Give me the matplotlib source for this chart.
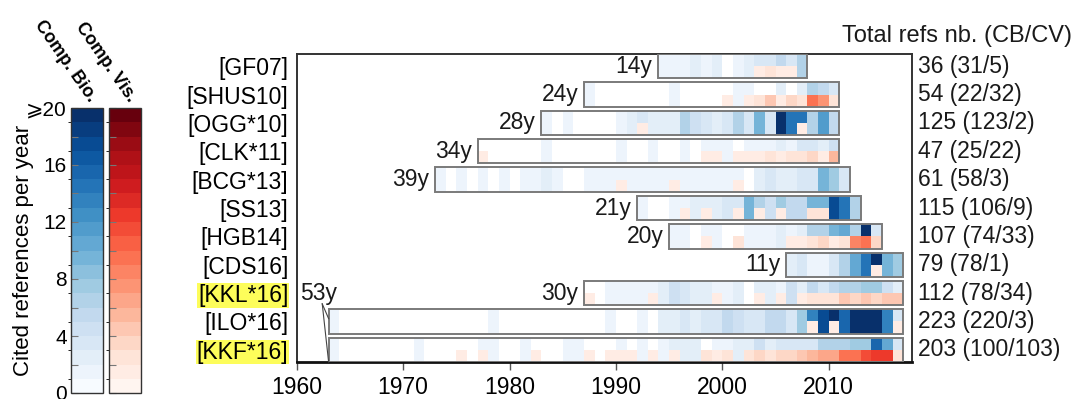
import numpy as np
import matplotlib
matplotlib.use('Agg')
import matplotlib.pyplot as plt
from matplotlib.colors import ListedColormap, BoundaryNorm
from matplotlib.cm import ScalarMappable
from matplotlib.patches import Rectangle
from matplotlib.transforms import blended_transform_factory

plt.rcParams['font.family'] = ['Liberation Sans', 'DejaVu Sans']

# ---------------- data ----------------
papers = ['[GF07]', '[SHUS10]', '[OGG*10]', '[CLK*11]', '[BCG*13]', '[SS13]',
          '[HGB14]', '[CDS16]', '[KKL*16]', '[ILO*16]', '[KKF*16]']
highlighted = ['[KKL*16]', '[KKF*16]']
start_years = [1994, 1987, 1983, 1977, 1973, 1992, 1995, 2006, 1987, 1963, 1963]
span_labels = ['14y', '24y', '28y', '34y', '39y', '21y', '20y', '11y', '30y', '53y', '']
total_refs = [36, 54, 125, 47, 61, 115, 107, 79, 112, 223, 203]
cb_refs = [31, 22, 123, 25, 58, 106, 74, 78, 78, 220, 100]
cv_refs = [5, 32, 2, 22, 3, 9, 33, 1, 34, 3, 103]

# cited references per year (Comp. Bio. / Comp. Vis.), starting at start year
cb_GF07 = [1, 1, 1, 2, 1, 2, 0, 1, 2, 3, 3, 5, 3, 6]
cv_GF07 = [0, 0, 0, 0, 0, 0, 0, 0, 0, 1, 2, 1, 1, 0]

cb_SHUS10 = [1, 0, 0, 0, 0, 0, 0, 0, 1, 0, 0, 0, 0, 0, 1, 1, 0, 0, 2, 0, 2, 6, 5, 3]
cv_SHUS10 = [0, 0, 0, 0, 0, 0, 0, 0, 0, 0, 0, 0, 0, 1, 0, 1, 2, 4, 1, 3, 2, 9, 7, 2]

cb_OGG10 = [1, 0, 1, 0, 0, 0, 0, 1, 2, 3, 2, 2, 2, 6, 4, 3, 2, 3, 6, 3, 9, 3, 20, 14, 14, 6, 11, 5]
cv_OGG10 = [0, 0, 0, 0, 0, 0, 0, 0, 0, 1, 0, 0, 0, 0, 0, 0, 0, 0, 0, 0, 0, 0, 0, 0, 1, 0, 0, 0]

cb_CLK11 = [0, 0, 0, 0, 0, 0, 1, 0, 0, 0, 0, 0, 0, 1, 0, 0, 1, 0, 0, 1, 0, 1, 1, 1, 0, 1, 1, 1,
            2, 1, 3, 3, 2, 4]
cv_CLK11 = [1, 0, 0, 0, 0, 0, 0, 0, 0, 0, 0, 0, 0, 0, 0, 0, 0, 0, 0, 0, 0, 1, 1, 0, 1, 1, 1, 2,
            1, 2, 2, 3, 1, 5]

cb_BCG13 = [1, 0, 1, 0, 1, 0, 1, 0, 1, 1, 2, 1, 0, 0, 1, 1, 1, 1, 1, 1, 1, 1, 1, 1, 1, 1,
            1, 1, 1, 0, 2, 3, 2, 2, 3, 3, 9, 7, 3]
cv_BCG13 = [0, 0, 0, 0, 0, 0, 0, 0, 0, 0, 0, 0, 0, 0, 0, 0, 0, 1, 0, 0, 0, 0, 1, 0, 0, 0,
            0, 0, 1, 0, 0, 0, 0, 0, 0, 0, 0, 0, 0]

cb_SS13 = [1, 0, 0, 1, 1, 2, 2, 2, 3, 3, 9, 6, 4, 7, 5, 5, 9, 9, 17, 14, 6]
cv_SS13 = [0, 0, 0, 0, 1, 0, 1, 0, 0, 1, 0, 1, 0, 1, 0, 0, 2, 2, 0, 0, 0]

cb_HGB14 = [1, 1, 0, 1, 1, 0, 0, 1, 1, 1, 2, 1, 2, 6, 6, 9, 10, 6, 22, 3]
cv_HGB14 = [0, 0, 0, 1, 0, 0, 2, 0, 0, 0, 0, 1, 1, 2, 3, 1, 2, 8, 9, 3]

cb_CDS16 = [2, 3, 1, 1, 3, 6, 10, 14, 22, 9, 7]
cv_CDS16 = [0, 0, 0, 0, 0, 0, 0, 0, 1, 0, 0]

cb_KKL16 = [0, 0, 1, 1, 1, 1, 1, 2, 4, 3, 2, 2, 1, 1, 2, 0, 2, 2, 1, 4, 2, 5, 3, 5, 6, 6, 7, 7, 4, 2]
cv_KKL16 = [1, 0, 0, 0, 0, 0, 1, 0, 0, 0, 0, 0, 1, 0, 0, 0, 1, 0, 1, 0, 1, 2, 2, 2, 4, 3, 4, 3, 4, 4]

cb_ILO16 = ([1, 0, 0, 0, 0, 0, 0] +
            [0, 0, 0, 0, 0, 0, 0, 0, 1, 0] +
            [0, 0, 0, 0, 0, 0, 0, 0, 0, 1] +
            [0, 0, 1, 0, 2, 2, 3, 2, 3, 3] +
            [5, 4, 3, 3, 5, 5, 3, 7, 13, 17] +
            [24, 15, 26, 28, 27, 13, 3])
cv_ILO16 = ([0, 0, 0, 0, 0, 0, 0] +
            [0, 0, 0, 0, 0, 0, 0, 0, 0, 0] +
            [0, 0, 0, 0, 0, 0, 0, 0, 0, 0] +
            [0, 0, 0, 0, 0, 0, 0, 0, 0, 0] +
            [0, 0, 0, 0, 0, 0, 0, 0, 1, 0] +
            [1, 0, 0, 0, 0, 0, 1])

cb_KKF16 = ([1, 0, 0, 0, 0, 0, 0] +
            [0, 1, 0, 0, 0, 0, 0, 1, 1, 0] +
            [0, 1, 0, 0, 0, 1, 1, 0, 0, 0] +
            [1, 0, 1, 0, 1, 2, 2, 2, 0, 1] +
            [1, 2, 2, 4, 2, 3, 3, 3, 3, 6] +
            [6, 6, 7, 7, 15, 10, 3])
cv_KKF16 = ([0, 0, 0, 0, 0, 0, 0] +
            [0, 0, 0, 0, 0, 1, 0, 1, 0, 0] +
            [0, 0, 1, 0, 0, 0, 0, 1, 0, 1] +
            [1, 1, 0, 1, 0, 1, 0, 0, 2, 1] +
            [2, 0, 2, 3, 2, 3, 3, 4, 5, 6] +
            [6, 9, 9, 11, 12, 12, 2])

cb_series = [cb_GF07, cb_SHUS10, cb_OGG10, cb_CLK11, cb_BCG13, cb_SS13,
             cb_HGB14, cb_CDS16, cb_KKL16, cb_ILO16, cb_KKF16]
cv_series = [cv_GF07, cv_SHUS10, cv_OGG10, cv_CLK11, cv_BCG13, cv_SS13,
             cv_HGB14, cv_CDS16, cv_KKL16, cv_ILO16, cv_KKF16]

cbar_ticks = [0, 2, 4, 6, 8, 10, 12, 14, 16, 18, 20]
cbar_labels = ['0', '', '4', '', '8', '', '12', '', '16', '', '\u2a7e20']

# ---------------- styling ----------------
FS = 16.5
H = 0.86  # bar thickness in row units
blues = ListedColormap(plt.get_cmap('Blues')(np.linspace(0, 1, 20)))
reds = ListedColormap(plt.get_cmap('Reds')(np.linspace(0, 1, 20)))
norm = BoundaryNorm(np.arange(0, 21), 20)

fig = plt.figure(figsize=(10.8, 3.99), dpi=100)
ax = fig.add_axes([296.7 / 1080, 1 - 362 / 399, (911.7 - 296.7) / 1080, (362 - 54) / 399])

n_rows = len(papers)
for i in range(n_rows):
    cb = np.array(cb_series[i], dtype=float)
    cv = np.array(cv_series[i], dtype=float)
    years = start_years[i] + np.arange(len(cb))
    cbc = np.minimum(cb, 19.5)
    cvc = np.minimum(cv, 19.5)
    top_cols = [blues(norm(v)) if v > 0 else (1, 1, 1, 1) for v in cbc]
    bot_cols = []
    for vb, vr in zip(cbc, cvc):
        if vr > 0:
            bot_cols.append(reds(norm(vr)))
        elif vb > 0:
            bot_cols.append(blues(norm(vb)))
        else:
            bot_cols.append((1, 1, 1, 1))
    ax.bar(years, H / 2, bottom=i - H / 2, width=1.0, align='edge',
           color=top_cols, linewidth=0, antialiased=False, zorder=2)
    ax.bar(years, H / 2, bottom=i, width=1.0, align='edge',
           color=bot_cols, linewidth=0, antialiased=False, zorder=2)
    ax.add_patch(Rectangle((start_years[i], i - H / 2), len(cb), H, fill=False,
                           edgecolor='#7a7a7a', linewidth=1.4, zorder=3))
    if span_labels[i] and papers[i] != '[ILO*16]':
        ax.text(start_years[i] - 0.55, i, span_labels[i], ha='right', va='center',
                fontsize=FS, color='#1a1a1a')

# shared 53y label for the two long rows
ila = papers.index('[ILO*16]')
kkf = papers.index('[KKF*16]')
ax.text(1960.35, ila - 1, span_labels[ila], ha='left', va='center', fontsize=FS,
        color='#1a1a1a', zorder=5)
ax.plot([1962.4, start_years[ila]], [ila - 0.62, ila - 0.1], color='#444444',
        lw=0.8, zorder=5, clip_on=False)
ax.plot([1962.4, start_years[kkf]], [ila - 0.62, kkf + H / 2], color='#444444',
        lw=0.8, zorder=5, clip_on=False)

# right-hand totals
tr = blended_transform_factory(ax.transAxes, ax.transData)
for i in range(n_rows):
    ax.text(1.01, i, f'{total_refs[i]} ({cb_refs[i]}/{cv_refs[i]})', transform=tr,
            ha='left', va='center', fontsize=FS, color='#1a1a1a')
fig.text(842 / 1080, 1 - 36 / 399, 'Total refs nb. (CB/CV)', ha='left', va='center',
         fontsize=17, color='#1a1a1a')

ax.set_xlim(1960, 2017.8)
ax.set_ylim(n_rows - 1 + H / 2, -H / 2)
ax.set_xticks([1960, 1970, 1980, 1990, 2000, 2010])
ax.tick_params(axis='x', direction='out', length=6, width=1, color='#555555',
               labelsize=FS, pad=4)
ax.set_yticks(range(n_rows))
ax.set_yticklabels(papers, fontsize=FS)
ax.tick_params(axis='y', length=0, pad=6)
for lbl in ax.get_yticklabels():
    if lbl.get_text() in highlighted:
        lbl.set_bbox(dict(facecolor='#fdfd5a', edgecolor='none', pad=0.5))
for side in ['top', 'right', 'left']:
    ax.spines[side].set_linewidth(1.4)
    ax.spines[side].set_color('#333333')
ax.spines['bottom'].set_linewidth(2.0)
ax.spines['bottom'].set_color('#111111')

# ---------------- colorbars ----------------
cb_bottom = 1 - 393 / 399
cb_height = (393 - 108) / 399
cax_b = fig.add_axes([71 / 1080, cb_bottom, 32 / 1080, cb_height])
cax_r = fig.add_axes([109 / 1080, cb_bottom, 32 / 1080, cb_height])

cbar_b = fig.colorbar(ScalarMappable(norm=norm, cmap=blues), cax=cax_b, ticks=cbar_ticks)
cbar_r = fig.colorbar(ScalarMappable(norm=norm, cmap=reds), cax=cax_r, ticks=cbar_ticks)
for cbar in (cbar_b, cbar_r):
    cbar.ax.yaxis.set_ticks_position('left')
    cbar.ax.tick_params(axis='y', direction='in', length=5, width=0.8, color='#777777',
                        pad=3, labelsize=15)
    cbar.outline.set_edgecolor('#333333')
    cbar.outline.set_linewidth(1.0)
cbar_b.ax.set_yticklabels(cbar_labels)
cbar_r.ax.set_yticklabels(['' for _ in cbar_ticks])
cbar_b.ax.yaxis.set_label_position('left')
cbar_b.ax.set_ylabel('Cited references per year', fontsize=16)
cbar_b.ax.yaxis.set_label_coords(-1.16, 0.5)

fig.text(93 / 1080, 1 - 100 / 399, 'Comp. Bio.', rotation=-55, rotation_mode='anchor',
         ha='right', va='center', fontsize=13, fontweight='bold')
fig.text(132 / 1080, 1 - 100 / 399, 'Comp. Vis.', rotation=-55, rotation_mode='anchor',
         ha='right', va='center', fontsize=13, fontweight='bold')

fig.savefig('out.png', dpi=100, facecolor='white')
